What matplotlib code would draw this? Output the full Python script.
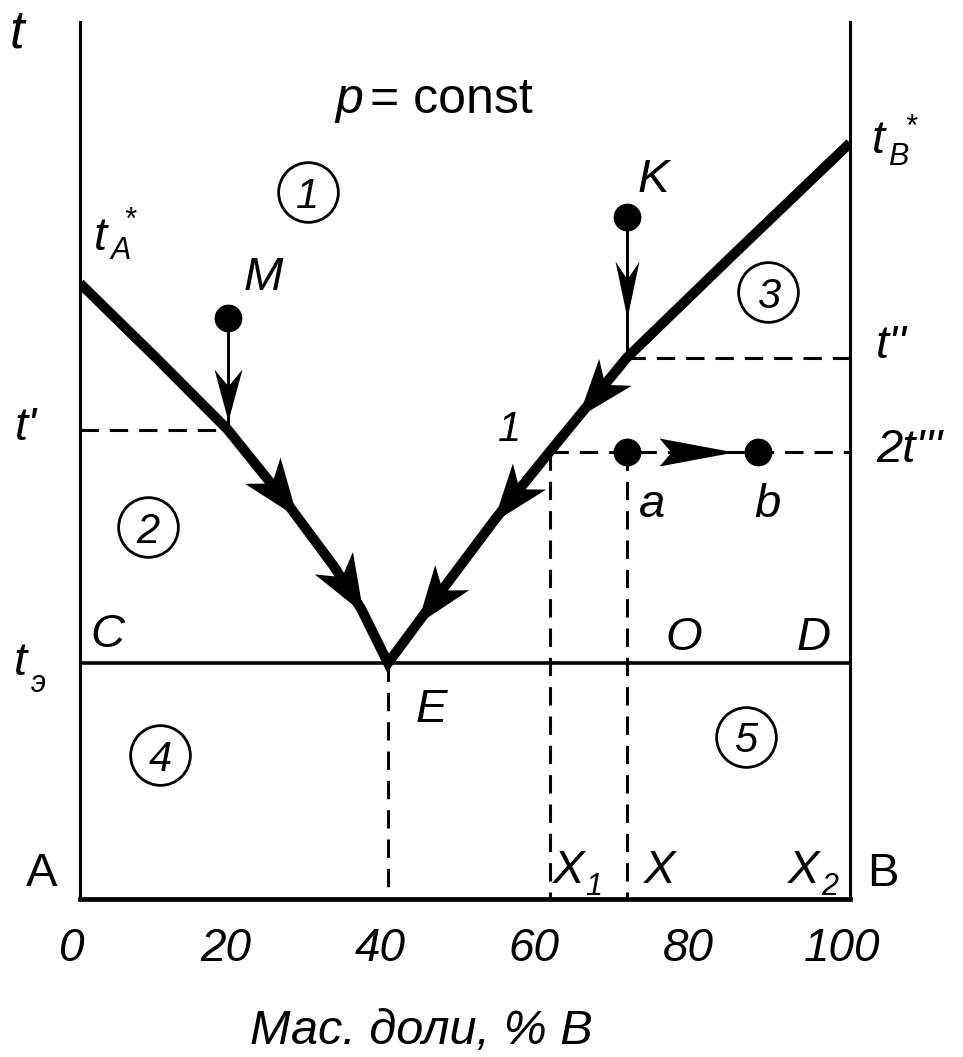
import numpy as np
import matplotlib
matplotlib.use("Agg")
import matplotlib.pyplot as plt
from matplotlib.path import Path
from matplotlib.markers import MarkerStyle
from matplotlib.transforms import Affine2D, ScaledTranslation

plt.rcParams['font.family'] = ['Liberation Sans', 'DejaVu Sans']

# liquidus branches (composition, % B  ->  temperature, arb. units)
x_left = [0, 10, 19.2, 27, 33, 36.5, 40]
t_left = [70.2, 61.6, 53.5, 45.0, 37.9, 33.1, 26.9]
x_right = [40, 47, 54, 61, 71, 85, 100]
t_right = [26.9, 35.2, 43.4, 51.0, 61.7, 73.6, 86.2]

x_E, t_E = 40, 26.9            # eutectic
x_M, t_M = 19.2, 66.2          # figurative point M
t_prime = 53.5                 # t'
x_X, t_K = 71, 77.8            # composition X, point K
t_dprime = 61.7                # t''
x_1, t_tprime = 61, 51.0       # point 1, 2t'''
x_b = 88                       # point b

# arrowheads along the liquidus (x of tip)
arrows_left = [28.2, 36.8]
arrows_right = [64.7, 53.6, 43.8]

xticks = [0, 20, 40, 60, 80, 100]

fig = plt.figure(figsize=(9.63, 10.57), dpi=100)
ax = fig.add_axes([80 / 963, 158 / 1057, 770 / 963, 877 / 1057])
ax.set_xlim(0, 100)
ax.set_ylim(0, 100)

for side in ['left', 'right']:
    ax.spines[side].set_linewidth(2.2)
ax.spines['bottom'].set_linewidth(3.4)
ax.spines['top'].set_visible(False)
ax.set_yticks([])
ax.set_xticks(xticks)
ax.set_xticklabels([str(v) for v in xticks], fontsize=33, style='italic')
ax.tick_params(axis='x', length=0, pad=20)
shift = ScaledTranslation(-0.08, 0, fig.dpi_scale_trans)
for lab in ax.get_xticklabels():
    lab.set_transform(lab.get_transform() + shift)
ax.set_xlabel('Мас. доли, % B', fontsize=35, style='italic')
ax.xaxis.set_label_coords(0.443, -0.125)

# eutectic horizontal (solidus)
ax.plot([0, 100], [t_E, t_E], color='black', lw=2.6, solid_capstyle='butt')

# liquidus as one polyline so the V at E gets a sharp join
lx = list(x_left) + list(x_right[1:])
lt = list(t_left) + list(t_right[1:])
ax.plot(lx, lt, color='black', lw=7.2, solid_joinstyle='miter',
        solid_capstyle='butt', zorder=4)

dash = dict(color='black', lw=2.2, linestyle=(0, (6, 3.6)), dash_capstyle='butt')
ax.plot([0, x_M], [t_prime, t_prime], **dash)
ax.plot([x_X, 100], [t_dprime, t_dprime], **dash)
ax.plot([x_1, 100], [t_tprime, t_tprime], **dash)
ax.plot([x_1, x_1], [t_tprime, 0], **dash)
ax.plot([x_X, x_X], [t_tprime, 0], **dash)
ax.plot([x_E, x_E], [t_E, 0], **dash)

# cooling paths from M and K
ax.plot([x_M, x_M], [t_M, t_prime], color='black', lw=2.2)
ax.plot([x_X, x_X], [t_K, t_dprime], color='black', lw=2.2)
ax.plot([x_M, x_X, x_X, x_b], [t_M, t_K, t_tprime, t_tprime], 'o',
        color='black', ms=19, zorder=5)


def head(angle, length, half_w, notch):
    verts = [(0, 0), (-length, half_w), (-length + notch, 0),
             (-length, -half_w), (0, 0)]
    codes = [Path.MOVETO, Path.LINETO, Path.LINETO, Path.LINETO, Path.CLOSEPOLY]
    return MarkerStyle(Path(verts, codes), transform=Affine2D().rotate_deg(angle))


def angle_on(xs, ts, x0, step):
    p0 = ax.transData.transform((x0, np.interp(x0, xs, ts)))
    p1 = ax.transData.transform((x0 + step, np.interp(x0 + step, xs, ts)))
    return np.degrees(np.arctan2(p1[1] - p0[1], p1[0] - p0[0]))


for xa in arrows_left:
    ang = angle_on(x_left, t_left, xa - 1, 1)
    ax.plot(xa, np.interp(xa, x_left, t_left), marker=head(ang, 58, 22, 16),
            ms=84, color='black', mew=0, zorder=6)
for xa in arrows_right:
    ang = angle_on(x_right, t_right, xa + 1, -1)
    ax.plot(xa, np.interp(xa, x_right, t_right), marker=head(ang, 58, 21, 16),
            ms=84, color='black', mew=0, zorder=6)

ax.plot(x_M, t_prime + 1.0, marker=head(-90, 52, 14, 17), ms=75,
        color='black', mew=0, zorder=6)
ax.plot(x_X, t_dprime + 4.6, marker=head(-90, 57, 12, 18), ms=82,
        color='black', mew=0, zorder=6)
ax.plot(x_X + 0.82 * (x_b - x_X), t_tprime, marker=head(0, 75, 14, 12),
        ms=108, color='black', mew=0, zorder=6)

# circled region numbers
regions = [('1', 29.6, 80.6), ('2', 8.8, 42.4), ('3', 89.4, 69.2),
           ('4', 10.4, 16.4), ('5', 86.5, 18.5)]
for num, xr, yr in regions:
    ax.plot(xr, yr, 'o', ms=43, mfc='white', mec='black', mew=2.0, zorder=3)
    ax.text(xr, yr, num, fontsize=30, style='italic', ha='center',
            va='center_baseline', zorder=4)

big = 34
small = 22


def lab(x, y, s, size=big, italic=True, **kw):
    ax.text(x, y, s, fontsize=size, style='italic' if italic else 'normal',
            ha=kw.pop('ha', 'left'), va=kw.pop('va', 'baseline'),
            clip_on=False, **kw)


lab(-9.2, 97.1, 't', size=38)
lab(33.2, 89.6, 'p', size=36)
lab(37.6, 89.6, '= const', size=36, italic=False)
lab(1.8, 74.0, 't')
lab(4.0, 73.0, 'A', size=small)
lab(5.6, 79.0, '*', size=small, va='top')
lab(21.2, 69.4, 'M')
lab(72.4, 80.6, 'K')
lab(102.9, 85.1, 't')
lab(104.9, 83.7, 'B', size=small)
lab(107.0, 89.6, '*', size=small, va='top')
lab(103.4, 61.7, "t''")
lab(103.4, 49.8, "2t'''")
lab(-8.4, 52.3, "t'")
lab(55.8, 53.5, '1', size=30, ha='center', va='center')
lab(72.6, 43.6, 'a')
lab(87.6, 43.6, 'b')
lab(1.4, 28.7, 'C')
lab(76.0, 28.4, 'O')
lab(93.0, 28.4, 'D')
lab(-8.6, 25.5, 't')
lab(-6.4, 23.6, 'э', size=small)
lab(43.6, 20.2, 'E')
lab(-7.0, 1.5, 'A', italic=False)
lab(102.2, 1.5, 'B', italic=False)
lab(61.4, 1.8, 'X')
lab(65.6, 0.5, '1', size=small)
lab(73.2, 1.8, 'X')
lab(92.0, 1.8, 'X')
lab(96.2, 0.5, '2', size=small)

fig.savefig('out.png', dpi=100)
